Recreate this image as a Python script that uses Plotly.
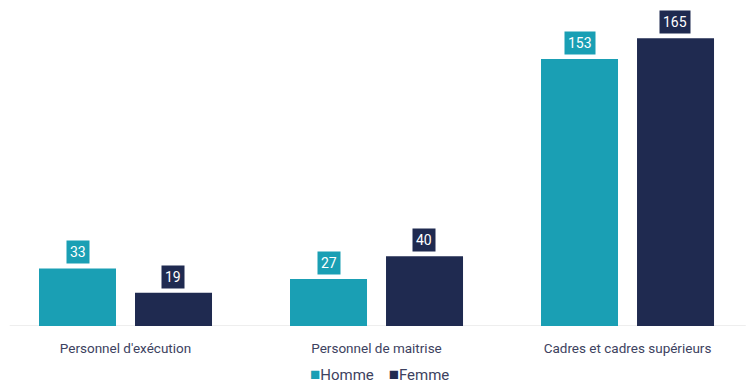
import plotly.graph_objects as go

categories = ["Personnel d'exécution", "Personnel de maitrise", "Cadres et cadres supérieurs"]
homme = [33, 27, 153]
femme = [19, 40, 165]
series_names = ["Homme", "Femme"]
colors = ["#1a9fb4", "#1f2a50"]

fig = go.Figure()
for name, vals, col in zip(series_names, [homme, femme], colors):
    fig.add_trace(go.Bar(x=categories, y=vals, name=name, marker=dict(color=col, line=dict(width=0)),
                         hoverinfo="x+y+name", showlegend=False))

offset = 0.191
annotations = []
for i, cat in enumerate(categories):
    for vals, col, sgn in [(homme, colors[0], -1), (femme, colors[1], 1)]:
        annotations.append(dict(x=i + sgn * offset, y=vals[i], xref="x", yref="y",
                                text=str(vals[i]), showarrow=False, yanchor="bottom", yshift=4,
                                font=dict(family="Roboto", size=14, color="white"),
                                bgcolor=col, borderpad=3))

legend_text = "&nbsp;&nbsp;&nbsp;&nbsp;".join(
    f"<span style='color:{c};font-size:17px'>■</span>{n}" for n, c in zip(series_names, colors)
)
plot_h = 385 - 20 - 59
annotations.append(dict(x=0.507, y=-(374 - 326) / plot_h, xref="paper", yref="paper", text=legend_text,
                        showarrow=False, xanchor="center", yanchor="middle", borderpad=0,
                        font=dict(family="Roboto", size=15, color="#3d4260")))

fig.update_layout(
    width=748, height=385,
    margin=dict(l=0, r=0, t=20, b=59, autoexpand=False),
    paper_bgcolor="white", plot_bgcolor="white",
    barmode="group", bargap=0.235, bargroupgap=0.198,
    font=dict(family="Roboto", size=13, color="#3d4260"),
    xaxis=dict(range=[-0.5, 2.48], showline=False, showgrid=False, ticks="",
               tickfont=dict(size=13.5, color="#3d4260"),
               ticklabelstandoff=12, automargin=False),
    yaxis=dict(range=[0, 175.4], visible=False, automargin=False),
    showlegend=False,
    annotations=annotations,
    shapes=[dict(type="line", xref="paper", yref="y", x0=0.013, x1=0.997, y0=0, y1=0,
                 line=dict(color="#dcdcdc", width=1), layer="below")],
)

fig.write_html("out.html", config={"displayModeBar": False},
               post_script="document.body.style.margin='0';")
